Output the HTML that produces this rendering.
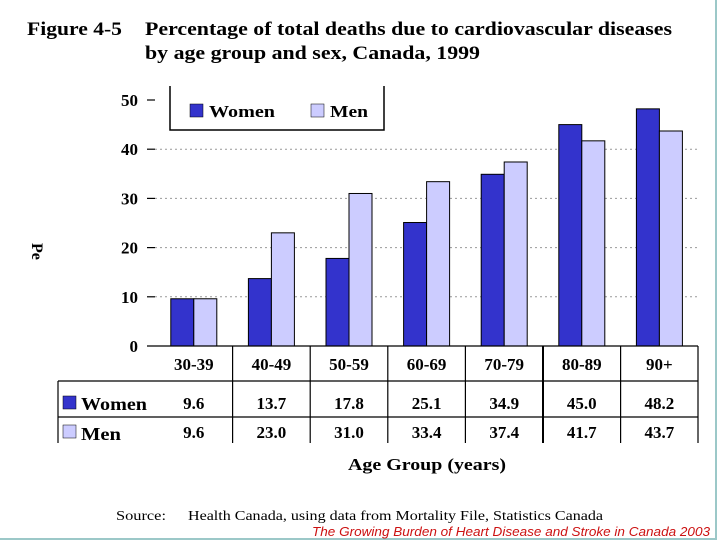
<!DOCTYPE html>
<html><head><meta charset="utf-8"><style>
html,body{margin:0;padding:0;background:#fff;}
svg{display:block;}
text{font-family:"Liberation Serif",serif;}
</style></head><body>
<svg id="chart" width="720" height="540" viewBox="0 0 720 540" xmlns="http://www.w3.org/2000/svg">
<rect x="0" y="0" width="720" height="540" fill="#fff"/>
<line x1="716" y1="0" x2="716" y2="540" stroke="#9cc8c8" stroke-width="2"/>
<line x1="0" y1="539" x2="716" y2="539" stroke="#9cc8c8" stroke-width="2"/>
<text x="27" y="35" font-size="19" font-weight="bold" textLength="95" lengthAdjust="spacingAndGlyphs">Figure 4-5</text>
<text x="145" y="35" font-size="19" font-weight="bold" textLength="527" lengthAdjust="spacingAndGlyphs">Percentage of total deaths due to cardiovascular diseases</text>
<text x="145" y="59" font-size="19" font-weight="bold" textLength="335" lengthAdjust="spacingAndGlyphs">by age group and sex, Canada, 1999</text>
<text transform="translate(32,243) rotate(90)" font-size="16" font-weight="bold">Pe</text>
<g id="grid"></g>
<g id="bars"></g>
<g id="axes"></g>
<g>
<polyline points="170,86 170,130 384,130 384,86" fill="none" stroke="#000" stroke-width="1.5"/>
<rect x="190" y="104" width="13" height="13" fill="#3333cc" stroke="#000" stroke-width="0.5"/>
<text x="209" y="117" font-size="17" font-weight="bold" textLength="66" lengthAdjust="spacingAndGlyphs">Women</text>
<rect x="311" y="104" width="13" height="13" fill="#ccccff" stroke="#000" stroke-width="0.5"/>
<text x="330" y="117" font-size="17" font-weight="bold" textLength="38" lengthAdjust="spacingAndGlyphs">Men</text>
</g>
<g id="table"></g>
<text x="348" y="470" font-size="17" font-weight="bold" textLength="158" lengthAdjust="spacingAndGlyphs">Age Group (years)</text>
<text x="116" y="520" font-size="14" textLength="50" lengthAdjust="spacingAndGlyphs">Source:</text>
<text x="188" y="520" font-size="14" textLength="415" lengthAdjust="spacingAndGlyphs">Health Canada, using data from Mortality File, Statistics Canada</text>
<text x="312" y="536" font-size="13" font-style="italic" fill="#cc1111" style="font-family:'Liberation Sans',sans-serif" textLength="398" lengthAdjust="spacingAndGlyphs">The Growing Burden of Heart Disease and Stroke in Canada 2003</text>
</svg>
<script>
const categories = ["30-39","40-49","50-59","60-69","70-79","80-89","90+"];
const women = [9.6,13.7,17.8,25.1,34.9,45.0,48.2];
const men = [9.6,23.0,31.0,33.4,37.4,41.7,43.7];
const womenLabels = ["9.6","13.7","17.8","25.1","34.9","45.0","48.2"];
const menLabels = ["9.6","23.0","31.0","33.4","37.4","41.7","43.7"];
const yTicks = [0,10,20,30,40,50];

const NS="http://www.w3.org/2000/svg";
const x0=155, catW=77.6, y0=346, pxPer=4.92;
const y = v => y0 - v*pxPer;
const xc = i => x0 + catW*i;
function mk(tag, attrs, parent, txt){const e=document.createElementNS(NS,tag);for(const k in attrs)e.setAttribute(k,attrs[k]);if(txt!==undefined)e.textContent=txt;parent.appendChild(e);return e;}
const grid=document.getElementById('grid'), bars=document.getElementById('bars'), axes=document.getElementById('axes'), table=document.getElementById('table');
yTicks.forEach(t=>{
  if(t>0 && t<50){const g=mk('line',{x1:155,x2:700,y1:y(t),y2:y(t),stroke:'#999','stroke-dasharray':'2,3','stroke-width':1},grid);
  
  }
  if(t>0){const tk=mk('line',{x1:147,x2:155,y1:y(t),y2:y(t),stroke:'#000','stroke-width':1.2},axes);
  
  }
  const lb=mk('text',{x:138,y:y(t)+6,'font-size':17,'font-weight':'bold','text-anchor':'end'},axes,String(t));
  
  
});
categories.forEach((c,i)=>{
  const cx=xc(i)+catW/2, bw=23;
  const bwm=mk('rect',{x:cx-bw,y:y(women[i]),width:bw,height:women[i]*pxPer,fill:'#3333cc',stroke:'#000','stroke-width':1},bars);
  
  
  const bm=mk('rect',{x:cx,y:y(men[i]),width:bw,height:men[i]*pxPer,fill:'#ccccff',stroke:'#000','stroke-width':1},bars);
  
  
  const h=mk('text',{x:cx,y:370,'font-size':17,'font-weight':'bold','text-anchor':'middle'},table,c);
  
  
  const tw=mk('text',{x:cx,y:409,'font-size':17,'font-weight':'bold','text-anchor':'middle'},table,womenLabels[i]);
  
  
  const tm=mk('text',{x:cx,y:438,'font-size':17,'font-weight':'bold','text-anchor':'middle'},table,menLabels[i]);
  
  
  if(i>0){const vl=mk('line',{x1:xc(i),x2:xc(i),y1:346,y2:443,stroke:'#000','stroke-width':i==5?2:1.2},table);
  
  }
});
const ax=mk('line',{x1:147,x2:698,y1:346,y2:346,stroke:'#000','stroke-width':1.2},axes);


[[58,381,698,381],[58,417,698,417],[58,381,58,443],[698,346,698,443]].forEach(l=>{
  const e=mk('line',{x1:l[0],y1:l[1],x2:l[2],y2:l[3],stroke:'#000','stroke-width':1.2},table);
  
  
});
const s1=mk('rect',{x:63,y:396,width:13,height:13,fill:'#3333cc',stroke:'#000','stroke-width':0.5},table);


const l1=mk('text',{x:81,y:410,'font-size':18,'font-weight':'bold',textLength:66,lengthAdjust:'spacingAndGlyphs'},table,'Women');


const s2=mk('rect',{x:63,y:425,width:13,height:13,fill:'#ccccff',stroke:'#000','stroke-width':0.5},table);


const l2=mk('text',{x:81,y:440,'font-size':18,'font-weight':'bold',textLength:40,lengthAdjust:'spacingAndGlyphs'},table,'Men');


const cover=mk('rect',{x:50,y:443,width:660,height:6,fill:'#fff'},table);


</script>
</body></html>
